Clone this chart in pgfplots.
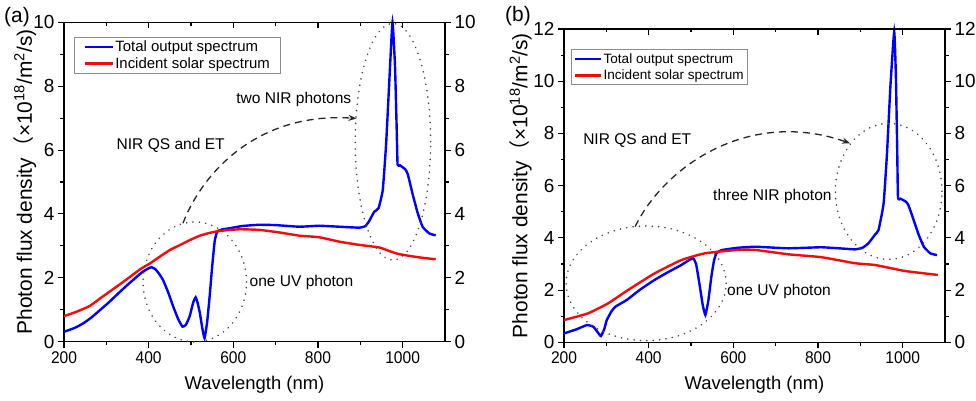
\documentclass[border=0pt]{standalone}
\usepackage{fontspec}
\setmainfont{Liberation Sans}
\newfontfamily\cjk{Noto Sans CJK SC}
\newfontfamily\xtickfont{Liberation Sans}[FakeStretch=0.92]
\usepackage{pgfplots}
\pgfplotsset{compat=1.18}
\usetikzlibrary{arrows.meta}

\definecolor{specblue}{RGB}{0,0,255}
\definecolor{specred}{RGB}{245,10,10}

\pgfplotsset{
  frame/.style={scale only axis, width=381bp, xmin=200, xmax=1100, ymin=0,
    xtick={200,400,...,1000}, minor x tick num=1, minor y tick num=1,
    major tick length=6bp, minor tick length=3.5bp,
    axis line style={line width=1.2bp},
    every tick/.style={line width=1.1bp, black},
    /pgf/number format/assume math mode=true,
    /pgf/number format/1000 sep={},
    x tick label style={font=\xtickfont\fontsize{17}{20}\selectfont},
    y tick label style={font=\fontsize{19}{22}\selectfont},
  },
  spec/.style={line width=2.4bp, smooth, tension=0.25},
  leg/.style={legend cell align=left,
    legend image code/.code={\draw[##1,line width=2.4bp] (0bp,0bp) -- (28bp,0bp);}},
}
\tikzset{
  ring/.style={draw=black!72, line width=1.7bp, line cap=round, dash pattern=on 0.1bp off 6.3bp},
  jump/.style={draw=black!85, line width=1.3bp, dash pattern=on 7bp off 5bp, -{Stealth[length=8bp,width=6bp]}},
  note/.style={font=\fontsize{15.6}{18}\selectfont, inner sep=0pt},
}

\pgfplotstableread{
nm val
200 0.31
225 0.43
245 0.57
265 0.76
285 0.99
305 1.22
324 1.46
345 1.72
363 1.93
385 2.18
400 2.30
407 2.33
415 2.28
425 2.12
434 1.93
446 1.55
458 1.10
470 0.70
480 0.47
488 0.53
497 0.80
505 1.22
511 1.39
516 1.20
521 0.89
527 0.40
532 0.11
538 0.60
544 1.41
550 2.35
556 3.15
562 3.45
575 3.52
591 3.55
620 3.62
660 3.66
700 3.65
756 3.60
803 3.63
850 3.60
898 3.57
912 3.62
921 3.78
933 4.07
943 4.18
953 4.75
961 6.21
969 8.30
976 10.0
982 8.60
986 6.60
988 5.55
994 5.52
1000 5.46
1006 5.40
1012 5.25
1023 4.65
1035 4.05
1047 3.60
1063 3.39
1078 3.33
}\totala

\pgfplotstableread{
nm val
200 0.80
230 0.94
261 1.12
290 1.40
324 1.72
356 2.03
380 2.27
403 2.45
427 2.67
450 2.87
473 3.02
497 3.18
521 3.32
545 3.41
568 3.47
615 3.52
662 3.50
709 3.42
756 3.32
803 3.27
851 3.13
898 3.03
945 2.95
970 2.83
992 2.74
1039 2.64
1078 2.58
}\solara

\pgfplotstableread{
nm val
200 0.34
230 0.50
254 0.66
269 0.60
278 0.42
287 0.24
295 0.50
301 0.85
312 1.18
321 1.36
348 1.62
380 2.02
414 2.39
445 2.68
477 2.96
504 3.22
512 3.00
521 2.13
528 1.40
534 1.05
541 1.60
548 2.50
554 3.10
560 3.41
572 3.53
610 3.62
651 3.66
690 3.63
730 3.60
770 3.62
808 3.64
850 3.60
887 3.56
905 3.62
919 3.79
935 4.13
943 4.30
955 5.32
963 7.24
971 9.79
980 11.9
984 10.2
987 7.50
989 5.55
995 5.50
1002 5.44
1008 5.38
1014 5.24
1026 4.68
1038 4.11
1050 3.66
1065 3.41
1081 3.34
}\totalb

\pgfplotstableread{
nm val
200 0.85
257 1.11
304 1.49
351 2.00
414 2.64
477 3.15
533 3.41
611 3.54
651 3.54
730 3.37
808 3.26
887 3.03
935 2.96
1006 2.73
1083 2.58
}\solarb

\begin{document}
\begin{tikzpicture}
\path[use as bounding box] (-64bp,-59.3bp) rectangle (912bp,341.7bp);

% ---------- (a)
\begin{axis}[frame, height=319.4bp, ymax=10, ytick={0,2,...,10},
  axis x line*=bottom, axis y line*=left, tick align=outside, clip=false,
  xlabel={Wavelength (nm)},
  ylabel={Photon flux density{\cjk （}×10\textsuperscript{18}/m\textsuperscript{2}/s)},
  every axis x label/.style={at={(axis description cs:0.5,-0.135)},anchor=center,
    font=\fontsize{18.5}{22}\selectfont},
  every axis y label/.style={at={(axis description cs:-0.102,0.5)},rotate=90,anchor=center,
    font=\fontsize{21}{24}\selectfont},
  leg,
  legend style={at={(axis description cs:0.026,0.954)}, anchor=north west,
    draw=black!45, line width=0.8bp, font=\fontsize{15}{17}\selectfont,
    inner xsep=9bp, inner ysep=2bp, row sep=1bp,
    nodes={inner sep=1.6bp}},
]
\addplot[spec, specblue] table {\totala};
\addplot[spec, specred] table {\solara};
\legend{Total output spectrum, Incident solar spectrum}
\draw[ring] (axis cs:509,1.87) ellipse [x radius=51.7bp, y radius=60bp];
\draw[ring] (axis cs:977,6.26) ellipse [x radius=37.7bp, y radius=118.3bp];
\draw[jump] (axis cs:481,3.71) .. controls (axis cs:532,5.44) and (axis cs:667,7.19) .. (axis cs:891,6.99);
\node[note, anchor=east] at (axis cs:879,7.57) {two NIR photons};
\node[note, anchor=center] at (axis cs:452,6.16) {NIR QS and ET};
\node[note, anchor=west] at (axis cs:638,1.85) {one UV photon};
\end{axis}
\begin{axis}[frame, height=319.4bp, ymax=10, ytick={0,2,...,10},
  axis x line=none, axis y line*=right, tick align=outside]
\end{axis}
\begin{axis}[frame, height=319.4bp, ymax=10, ytick={0,2,...,10},
  axis x line*=top, axis y line=none, tick align=inside, xticklabels={}]
\end{axis}
\node[font=\fontsize{21}{24}\selectfont] at (-47bp,324.7bp) {(a)};

% ---------- (b)
\begin{axis}[at={(500bp,-0.6bp)}, frame, height=313.3bp, ymax=12, ytick={0,2,...,12},
  axis x line*=bottom, axis y line*=left, tick align=outside, clip=false,
  xlabel={Wavelength (nm)},
  ylabel={Photon flux density{\cjk （}×10\textsuperscript{18}/m\textsuperscript{2}/s)},
  every axis x label/.style={at={(axis description cs:0.5,-0.136)},anchor=center,
    font=\fontsize{18.5}{22}\selectfont},
  every axis y label/.style={at={(axis description cs:-0.114,0.5)},rotate=90,anchor=center,
    font=\fontsize{21}{24}\selectfont},
  leg,
  legend style={at={(axis description cs:0.019,0.935)}, anchor=north west,
    draw=black!45, line width=0.8bp, font=\fontsize{13.6}{16}\selectfont,
    inner xsep=2bp, inner ysep=2bp, row sep=2bp,
    nodes={inner sep=1.6bp}},
  legend image code/.code={\draw[#1,line width=2.4bp] (0bp,0bp) -- (26bp,0bp);},
]
\addplot[spec, specblue] table {\totalb};
\addplot[spec, specred] table {\solarb};
\legend{Total output spectrum, Incident solar spectrum}
\draw[ring] (axis cs:394,2.26) ellipse [x radius=80bp, y radius=57.3bp];
\draw[ring] (axis cs:967,5.78) ellipse [x radius=53.3bp, y radius=68bp];
\draw[jump] (axis cs:368,4.43) .. controls (axis cs:439,6.79) and (axis cs:640,8.97) .. (axis cs:876,7.62);
\node[note, anchor=west] at (axis cs:245,7.75) {NIR QS and ET};
\node[note, anchor=west] at (axis cs:552,5.58) {three NIR photon};
\node[note, anchor=west] at (axis cs:585,1.94) {one UV photon};
\end{axis}
\begin{axis}[at={(500bp,-0.6bp)}, frame, height=313.3bp, ymax=12, ytick={0,2,...,12},
  axis x line=none, axis y line*=right, tick align=outside]
\end{axis}
\begin{axis}[at={(500bp,-0.6bp)}, frame, height=313.3bp, ymax=12, ytick={0,2,...,12},
  axis x line*=top, axis y line=none, tick align=inside, xticklabels={}]
\end{axis}
\node[font=\fontsize{21}{24}\selectfont] at (454bp,325.7bp) {(b)};
\end{tikzpicture}
\end{document}
